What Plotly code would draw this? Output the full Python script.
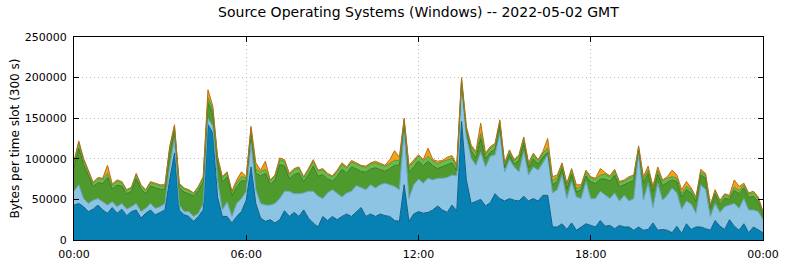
import plotly.graph_objects as go

# time of each 10-minute sample, in hours since 00:00
hours = [i / 6 for i in range(145)]

# per-layer values in thousands of bytes per 300 s slot (bottom -> top)
blue_k = [43,45,41,35,38,43,37,33,40,33, 38,30,35,37,27,33,37,31,34,37, 74,107,37,31,29,23,29,37,142,132, 53,29,29,21,29,35,
          49,90,45,27,23,25,21,25,36,29, 34,29,37,27,21,16,29,24,29,25, 29,32,29,35,40,29,32,29,32,30, 29,24,23,68,23,32,
          35,33,34,37,42,37,34,43,36,146, 74,45,48,50,42,46,57,51,48,51, 49,48,54,48,51,48,55,55,16,16, 20,13,21,12,16,20,
          18,16,24,17,18,14,18,16,16,12, 16,12,13,21,12,13,12,9,17,8, 20,13,16,16,14,12,24,17,13,25, 17,12,20,9,16,12,9]
lightblue_k = [17,23,10,10,11,8,10,10,7,8, 7,8,6,8,8,6,8,8,7,8, 16,18,6,4,6,6,4,8,8,8, 21,8,18,8,16,16,
               11,29,17,18,20,18,24,26,24,31, 23,28,21,33,39,38,22,34,33,32, 24,26,31,32,24,33,36,35,36,40, 39,42,39,67,28,36,
               40,37,42,37,34,39,43,37,43,45, 53,56,44,58,48,57,48,81,36,48, 41,36,55,32,39,38,40,50,42,46, 60,38,51,41,35,52,
               33,35,36,38,33,44,30,39,32,39, 91,37,57,19,58,36,43,55,41,30, 28,31,17,52,48,17,21,17,28,18, 28,27,31,28,21,23,16]
darkgreen_k = [29.5,45,42,34.5,17,19.5,22.5,34,16,26.5, 21.5,19,19,30.5,28,18,21.5,25.5,21.5,17.5, 18,10,21.5,24,22,25,28,26.5,19,17, 22,34.5,30.5,26,20,22,
               12.5,14,20,34,39,25.5,28.5,42,31,15.5, 23.5,25.5,13.5,20.5,31,24.5,29.5,17.5,10.5,21.5, 34,24.5,30,20.5,20.5,21.5,19.5,25,18.5,14.5, 20,26,30,9,33,22,
               22.5,21.5,21,17.5,12,14.5,16,15,6.5,3, 7,9,9,17,10,5,7,9,5.5,6.5, 3.5,14,11,9.5,10,7.5,7,3,10,10, 8,12,9,6,11,7,
               20.5,18.5,15,20,21.5,22,17.5,13.5,23,22.5, 4,21,12,19.5,11,18,16,10,14,15, 14,14,14.5,12,14,10,11.5,9.5,10.5,7, 16,18,13,15.5,17,12.5,6]
lightgreen_k = [6,7,6,5,4,5,5,5,4,5, 4,4,4,5,4,4,4,4,4,4, 5,5,4,4,4,3,4,5,6,5, 5,5,5,4,5,5,
                4,5,5,5,5,4,5,6,6,5, 6,6,5,6,6,6,6,5,5,6, 6,6,6,6,6,6,6,6,6,6, 6,6,6,4,6,6,
                6,6,6,6,6,6,6,6,5,4, 4,5,5,6,5,5,5,5,4,4, 4,5,5,4,5,4,5,5,5,5, 5,5,5,4,4,5,
                5,5,5,6,5,5,5,4,5,5, 3,5,4,5,4,5,5,4,4,4, 4,4,4,4,4,3,4,4,4,3, 4,4,4,4,4,4,3]
orange_k = [1.5,2,1.5,1.5,1,1.5,1.5,10,2,1.5, 1.5,1,1,1.5,1,1,1.5,1.5,1.5,1.5, 2,2,1.5,1,1,1,1,1.5,10,3, 2,1.5,1.5,1,4,6,
            1.5,2,8,2,10,1.5,1.5,2,2,1.5, 1.5,1.5,1.5,1.5,2,1.5,1.5,1.5,1.5,1.5, 2,1.5,2,1.5,1.5,1.5,1.5,2,1.5,1.5, 5,12,4,2,2,2,
            1.5,1.5,10,1.5,3,1.5,3,3,1.5,2, 2,2,3,13,2,2,2,2,1.5,1.5, 1.5,2,2,1.5,2,1.5,2,12,5,3, 2,2,2,5,2,2,
            1.5,1.5,8,2,1.5,2,1.5,1.5,2,1.5, 2,3,5,1.5,5,2,2,8,4,5, 6,2,1.5,3,2,1,1.5,1.5,1.5,2, 9,5,2,1.5,2,1.5,1]

tick_vals = [0, 6, 12, 18, 24]
tick_text = ["00:00", "06:00", "12:00", "18:00", "00:00"]
y_ticks = [0, 50000, 100000, 150000, 200000, 250000]

for arr in (blue_k, lightblue_k, darkgreen_k, lightgreen_k, orange_k):
    assert len(arr) == len(hours), len(arr)

layers = [
    (blue_k, "#0780b4", "#0b5f85"),
    (lightblue_k, "#8dc3e3", "#6aa2c4"),
    (darkgreen_k, "#4e9a2d", "#3c7a22"),
    (lightgreen_k, "#6cbb4d", "#4f9838"),
    (orange_k, "#f3a01e", "#b86e12"),
]

fig = go.Figure()
for vals, fillc, linec in layers:
    fig.add_trace(go.Scatter(
        x=hours, y=[v * 1000 for v in vals], mode="lines",
        stackgroup="s", fillcolor=fillc,
        line=dict(color=linec, width=1),
        showlegend=False, hoverinfo="skip"))

fig.update_layout(
    width=785, height=264,
    margin=dict(l=74, r=22, t=37, b=24, autoexpand=False),
    paper_bgcolor="white", plot_bgcolor="white",
    font=dict(family="DejaVu Sans", size=11, color="black"),
    title=dict(text="Source Operating Systems (Windows) -- 2022-05-02 GMT",
               x=0.533, xanchor="center", y=0.955, yanchor="middle",
               font=dict(size=14, family="DejaVu Sans")),
)
fig.update_xaxes(range=[0, 24], tickvals=tick_vals, ticktext=tick_text,
                 ticks="inside", ticklen=5, tickcolor="black", automargin=False,
                 ticklabelstandoff=4,
                 showline=True, linecolor="black", linewidth=1, mirror="ticks",
                 showgrid=True, gridcolor="#b8b8b8", griddash="1px,3px", gridwidth=1,
                 zeroline=False, tickfont=dict(size=11))
fig.update_yaxes(range=[0, 250000], tickvals=y_ticks, tickformat="d",
                 ticks="inside", ticklen=5, tickcolor="black", automargin=False,
                 ticklabelstandoff=4,
                 showline=True, linecolor="black", linewidth=1, mirror="ticks",
                 showgrid=True, gridcolor="#b8b8b8", griddash="1px,3px", gridwidth=1,
                 zeroline=False, tickfont=dict(size=11),
                 title=dict(text="Bytes per time slot (300 s)", font=dict(size=12), standoff=2))

fig.write_html("out.html")
